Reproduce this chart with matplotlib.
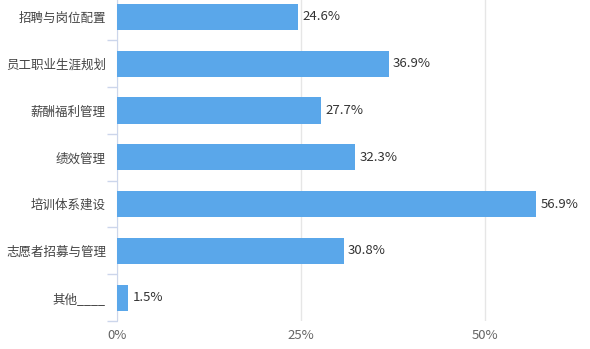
import numpy as np
import matplotlib.pyplot as plt
from matplotlib.ticker import FixedLocator

plt.rcParams['font.family'] = ['Noto Sans CJK SC', 'DejaVu Sans']

categories = ["招聘与岗位配置", "员工职业生涯规划", "薪酬福利管理", "绩效管理",
              "培训体系建设", "志愿者招募与管理", "其他____"]
values = [24.6, 36.9, 27.7, 32.3, 56.9, 30.8, 1.5]
xticks = [0, 25, 50]
xticklabels = ["0%", "25%", "50%"]

fig = plt.figure(figsize=(5.9, 3.49), dpi=100)
ax = fig.add_axes([117 / 590, 28 / 349, 1 - 117 / 590, 327.4 / 349])

y = np.arange(len(categories))
ax.barh(y, values, height=0.56, color="#5aa7ea", zorder=3)
for yi, v in zip(y, values):
    ax.text(v + 0.6, yi, f"{v}%", va="center", ha="left",
            fontsize=9.5, color="#333333", zorder=4)

ax.set_xlim(0, 473 / 7.36)
ax.set_ylim(len(categories) - 0.5, -0.5)

ax.set_xticks(xticks)
ax.set_xticklabels(xticklabels)
ax.set_yticks(y)
ax.set_yticklabels(categories)
ax.yaxis.set_minor_locator(FixedLocator(np.arange(-0.5, len(categories), 1)))

ax.tick_params(axis="y", which="major", length=0, pad=8, labelsize=9, labelcolor="#444444")
ax.tick_params(axis="y", which="minor", length=7, color="#ccd6eb", width=1)
ax.tick_params(axis="x", length=0, pad=6, labelsize=9.5, labelcolor="#666666")

ax.grid(axis="x", color="#e6e6e6", linewidth=1, zorder=0)
for side in ["top", "right", "bottom"]:
    ax.spines[side].set_visible(False)
ax.spines["left"].set_color("#ccd6eb")

fig.savefig("out.png", dpi=100)
